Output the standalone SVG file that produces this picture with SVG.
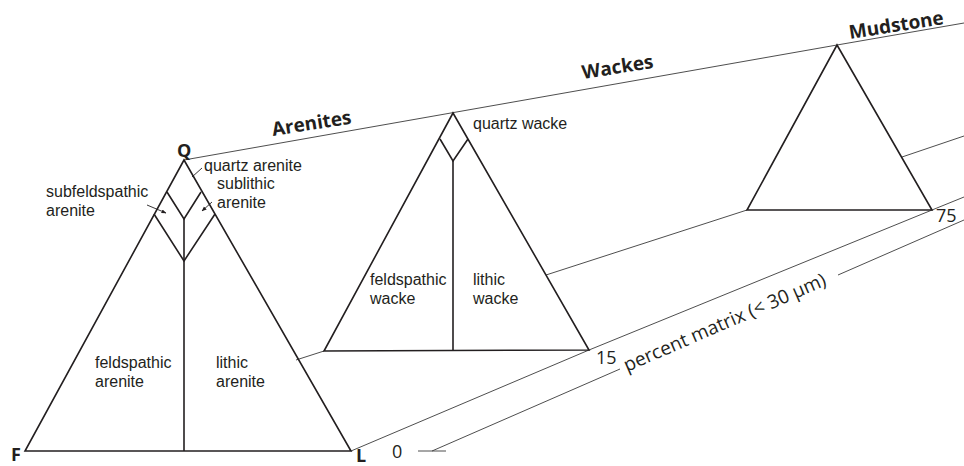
<svg xmlns="http://www.w3.org/2000/svg" width="964" height="466" viewBox="0 0 964 466">
<defs>
<style>
.tri{fill:none;stroke:#231f20;stroke-width:1.6;stroke-linejoin:miter}
.conn{fill:none;stroke:#3a3a3a;stroke-width:0.9}
.lead{fill:none;stroke:#231f20;stroke-width:0.9}
.lbl{font-family:"Liberation Sans",Arial,sans-serif;font-size:16px;fill:#231f20}
.big{font-family:"Open Sans","Liberation Sans",sans-serif;font-size:19px;font-weight:bold;fill:#231f20}
.vtx{font-family:"Open Sans","Liberation Sans",sans-serif;font-size:18px;font-weight:bold;fill:#231f20}
.num{font-family:"Open Sans","Liberation Sans",sans-serif;font-size:18px;fill:#231f20}
.axis{font-family:"Open Sans","Liberation Sans",sans-serif;font-size:19px;fill:#231f20}
</style>
<marker id="ah" viewBox="0 0 10 10" refX="9" refY="5" markerWidth="5" markerHeight="5" orient="auto" markerUnits="userSpaceOnUse">
<path d="M0,1 L10,5 L0,9 z" fill="#231f20"/>
</marker>
</defs>
<rect width="964" height="466" fill="#fff"/>

<g id="connectors">
<polyline class="conn" points="184,160 837,45 964,23"/>
<line class="conn" x1="296" y1="360" x2="324" y2="351"/>
<line class="conn" x1="546" y1="275" x2="747" y2="210"/>
<line class="conn" x1="902" y1="157" x2="964" y2="136"/>
<polyline class="conn" points="351,451 589,350 932,210 964,197"/>
<line class="conn" x1="418" y1="451" x2="446" y2="451"/>
<line class="conn" x1="432" y1="451" x2="620" y2="369"/>
<line class="conn" x1="838" y1="275" x2="964" y2="220"/>
</g>

<g id="arenites">
<polygon class="tri" points="184,160 25,451 351,451"/>
<polyline class="tri" points="167,192 184,219 201,192"/>
<polyline class="tri" points="154,214 184,261 215,214"/>
<line class="tri" x1="184" y1="219" x2="184" y2="451"/>
<text class="vtx" x="177" y="157">Q</text>
<text class="vtx" x="11" y="461">F</text>
<text class="vtx" x="356" y="462">L</text>
<text class="lbl" x="204" y="171">quartz arenite</text>
<line class="lead" x1="202" y1="168" x2="192" y2="177"/>
<text class="lbl" x="217" y="189">sublithic</text>
<text class="lbl" x="217" y="207.5">arenite</text>
<line class="lead" x1="212" y1="202" x2="202" y2="211" marker-end="url(#ah)"/>
<text class="lbl" x="46" y="197">subfeldspathic</text>
<text class="lbl" x="46" y="215.5">arenite</text>
<line class="lead" x1="147" y1="205" x2="166" y2="213" marker-end="url(#ah)"/>
<text class="lbl" x="95" y="368">feldspathic</text>
<text class="lbl" x="95" y="386.5">arenite</text>
<text class="lbl" x="216" y="368">lithic</text>
<text class="lbl" x="216" y="386.5">arenite</text>
<text class="big" x="273" y="136" transform="rotate(-9 273 136)">Arenites</text>
</g>

<g id="wackes">
<polygon class="tri" points="453,113 324,351 589,350"/>
<polyline class="tri" points="440,139 453,161 468,139"/>
<line class="tri" x1="453" y1="161" x2="453" y2="350"/>
<text class="lbl" x="473" y="129">quartz wacke</text>
<text class="lbl" x="370" y="285">feldspathic</text>
<text class="lbl" x="370" y="303.5">wacke</text>
<text class="lbl" x="473" y="285">lithic</text>
<text class="lbl" x="473" y="303.5">wacke</text>
<text class="big" x="583" y="79" transform="rotate(-9 583 79)">Wackes</text>
</g>

<g id="mudstone">
<polygon class="tri" points="837,45 747,210 932,210"/>
<text class="big" x="850" y="39" transform="rotate(-9 850 39)">Mudstone</text>
</g>

<g id="axis-labels">
<text class="num" x="392" y="458">0</text>
<text class="num" x="596" y="364">15</text>
<text class="num" x="936" y="222">75</text>
<text class="axis" x="627" y="372" transform="rotate(-23.5 627 372)">percent matrix (&lt; 30 μm)</text>
</g>
</svg>
